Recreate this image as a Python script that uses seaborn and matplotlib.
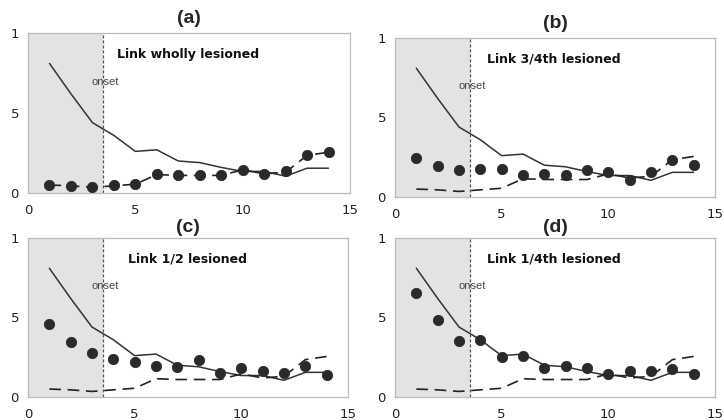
import numpy as np
import pandas as pd
import matplotlib.pyplot as plt
import seaborn as sns

# x positions (trials)
trials = list(range(1, 15))

# solid line, same in every panel
intact = [8.1, 6.2, 4.4, 3.6, 2.6, 2.7, 2.0, 1.9, 1.6, 1.35, 1.35, 1.05, 1.55, 1.55]
# dashed line, same in every panel
fully_lesioned = [0.5, 0.45, 0.35, 0.45, 0.55, 1.15, 1.1, 1.1, 1.1, 1.45, 1.2, 1.3, 2.35, 2.55]

# dots per panel
dots_a = [0.5, 0.45, 0.35, 0.5, 0.55, 1.2, 1.1, 1.1, 1.1, 1.45, 1.2, 1.35, 2.35, 2.55]
dots_b = [2.45, 1.93, 1.68, 1.74, 1.74, 1.36, 1.42, 1.4, 1.68, 1.57, 1.1, 1.57, 2.35, 2.0]
dots_c = [4.6, 3.47, 2.74, 2.4, 2.17, 1.98, 1.89, 2.3, 1.5, 1.83, 1.66, 1.52, 1.98, 1.41]
dots_d = [6.55, 4.87, 3.53, 3.61, 2.52, 2.58, 1.85, 1.95, 1.85, 1.47, 1.64, 1.64, 1.74, 1.47]

panel_titles = ["(a)", "(b)", "(c)", "(d)"]
panel_labels = ["Link wholly lesioned", "Link 3/4th lesioned",
                "Link 1/2 lesioned", "Link 1/4th lesioned"]
panel_dots = [dots_a, dots_b, dots_c, dots_d]

onset = 3.5
x_ticks = [0, 5, 10, 15]
y_ticks = [0, 5, 10]
y_tick_labels = ["0", "5", "1"]

sns.set_style("white")
plt.rcParams['font.family'] = ['DejaVu Sans']

fig = plt.figure(figsize=(7.24, 4.2), dpi=100)
W, H = 724, 420
# axes boxes in pixels: left, top, right, bottom
boxes = [(28, 33, 350, 193), (395, 38, 715, 197),
         (28, 238, 348, 397), (395, 238, 715, 397)]
label_x = [4.15, 4.3, 4.7, 4.3]
title_pad = [7, 7, 4, 4]

for i, (l, t, r, b) in enumerate(boxes):
    ax = fig.add_axes([l / W, 1 - b / H, (r - l) / W, (b - t) / H])
    df = pd.DataFrame({'trial': trials, 'intact': intact,
                       'lesioned': fully_lesioned, 'dots': panel_dots[i]})
    ax.axvspan(0, onset, color='#e3e3e3', zorder=0, lw=0)
    sns.lineplot(data=df, x='trial', y='intact', ax=ax, color='#333333', lw=1.1)
    sns.lineplot(data=df, x='trial', y='lesioned', ax=ax, color='#222222',
                 lw=1.2, linestyle=(0, (7, 4)))
    sns.scatterplot(data=df, x='trial', y='dots', ax=ax, color='#2a2a2a',
                    s=55, edgecolor='#2a2a2a', zorder=5)
    ax.axvline(onset, color='#555555', ls=(0, (2.5, 1.5)), lw=0.9)
    ax.text(3.6, 6.95, "onset", ha='center', va='center', fontsize=8,
            color='#444444', family='Liberation Sans')
    ax.text(label_x[i], 8.65, panel_labels[i], ha='left', va='center', fontsize=9,
            fontweight='bold', color='#111111')
    ax.set_xlim(0, 15)
    ax.set_ylim(0, 10)
    ax.set_xticks(x_ticks)
    ax.set_yticks(y_ticks)
    ax.set_yticklabels(y_tick_labels)
    ax.set_xlabel('')
    ax.set_ylabel('')
    ax.tick_params(axis='both', labelsize=9.5, colors='#222222', length=3,
                   color='#999999')
    ax.tick_params(axis='x', direction='in', pad=8)
    for s in ax.spines.values():
        s.set_color('#bbbbbb')
        s.set_linewidth(0.9)
    ax.set_title(panel_titles[i], fontsize=14, fontweight='bold',
                 family='Liberation Sans', pad=title_pad[i])

fig.savefig("out.png", dpi=100)
